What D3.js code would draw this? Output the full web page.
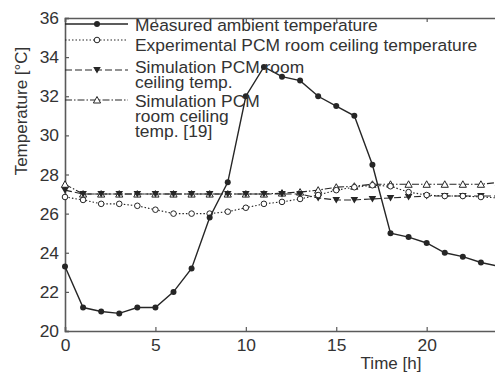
<!DOCTYPE html>
<html>
<head>
<meta charset="utf-8">
<script src="https://cdn.jsdelivr.net/npm/d3@7"></script>
<style>
  body { margin: 0; background: #fff; }
  svg { display: block; font-family: "Liberation Sans", Arial, Helvetica, sans-serif; }
</style>
</head>
<body>
<div id="chart"></div>
<script>
// hours of the day
const hours = [0, 1, 2, 3, 4, 5, 6, 7, 8, 9, 10, 11, 12, 13, 14, 15, 16, 17, 18, 19, 20, 21, 22, 23, 24];

// temperatures in degC
const measured = [23.3, 21.2, 21.0, 20.9, 21.2, 21.2, 22.0, 23.2, 25.8, 27.6, 32.0, 33.5, 33.0,
  32.8, 32.0, 31.5, 31.0, 28.5, 25.0, 24.8, 24.5, 24.0, 23.8, 23.5, 23.3];
const experimental = [26.85, 26.7, 26.5, 26.5, 26.4, 26.2, 26.0, 26.0, 26.0, 26.1, 26.3, 26.5, 26.6,
  26.75, 26.95, 27.2, 27.35, 27.45, 27.4, 27.1, 26.95, 26.9, 26.9, 26.85, 26.8];
const simulation = [27.2, 27.0, 27.0, 27.0, 27.0, 27.0, 27.0, 27.0, 27.0, 27.0, 27.0, 27.0, 27.0,
  27.0, 26.8, 26.7, 26.7, 26.75, 26.8, 26.85, 26.9, 26.9, 26.9, 26.9, 26.9];
const simulationRef = [27.5, 27.0, 27.0, 27.0, 27.0, 27.0, 27.0, 27.0, 27.0, 27.0, 27.0, 27.0, 27.05,
  27.1, 27.2, 27.35, 27.4, 27.5, 27.5, 27.5, 27.5, 27.5, 27.5, 27.5, 27.6];

const xTicks = [0, 5, 10, 15, 20];
const yTicks = [20, 22, 24, 26, 28, 30, 32, 34, 36];

const series = [
  { values: measured, dash: null, marker: "dot", lines: ["Measured ambient temperature"] },
  { values: experimental, dash: "1.5,2", marker: "circle", lines: ["Experimental PCM room ceiling temperature"] },
  { values: simulation, dash: "7,3", marker: "down", lines: ["Simulation PCM room", "ceiling temp."] },
  { values: simulationRef, dash: "7,2,1.5,2", marker: "up", lines: ["Simulation PCM", "room ceiling", "temp. [19]"] }
];

const width = 495, height = 374;
const margin = { top: 18, left: 65, bottom: 331 };
const ink = "#262626";
const axisColor = "#5a5a5a";
const fontSize = "17.4px";

const svg = d3.select("#chart").append("svg")
  .attr("width", width)
  .attr("height", height);

const x = d3.scaleLinear().domain([0, 24]).range([margin.left, 499]);
const y = d3.scaleLinear().domain([20, 36]).range([margin.bottom, margin.top]);

// axes with inward ticks
const gx = svg.append("g")
  .attr("transform", `translate(0,${margin.bottom})`)
  .call(d3.axisBottom(x).tickValues(xTicks).tickSize(-4).tickPadding(8));
const gy = svg.append("g")
  .attr("transform", `translate(${margin.left},0)`)
  .call(d3.axisLeft(y).tickValues(yTicks).tickSize(-4).tickPadding(6));
const gt = svg.append("g")
  .attr("transform", `translate(0,${margin.top})`)
  .call(d3.axisTop(x).tickValues(xTicks).tickSize(-4).tickFormat(""));

[gx, gy, gt].forEach(g => {
  g.select(".domain").attr("stroke", axisColor).attr("stroke-width", 1.6);
  g.selectAll(".tick line").attr("stroke", axisColor).attr("stroke-width", 1.2);
  g.selectAll(".tick text")
    .attr("fill", "#333")
    .style("font-size", fontSize)
    .style("font-family", "'Liberation Sans', Arial, sans-serif");
});

// axis titles
svg.append("text")
  .attr("transform", "translate(27,111) rotate(-90)")
  .attr("text-anchor", "middle")
  .attr("fill", "#333")
  .style("font-size", "17px")
  .text("Temperature [°C]");
svg.append("text")
  .attr("x", 391)
  .attr("y", 369)
  .attr("text-anchor", "middle")
  .attr("fill", "#333")
  .style("font-size", "17px")
  .text("Time [h]");

function drawMarker(g, type, cx, cy) {
  if (type === "dot") {
    g.append("circle").attr("cx", cx).attr("cy", cy).attr("r", 3)
      .attr("fill", ink);
  } else if (type === "circle") {
    g.append("circle").attr("cx", cx).attr("cy", cy).attr("r", 2.8)
      .attr("fill", "#fff").attr("stroke", ink).attr("stroke-width", 1);
  } else if (type === "down") {
    g.append("path")
      .attr("d", `M${cx - 3.8},${cy - 3}L${cx + 3.8},${cy - 3}L${cx},${cy + 3.5}Z`)
      .attr("fill", ink);
  } else {
    g.append("path")
      .attr("d", `M${cx - 3.6},${cy + 3}L${cx + 3.6},${cy + 3}L${cx},${cy - 3.5}Z`)
      .attr("fill", "#fff").attr("stroke", ink).attr("stroke-width", 1);
  }
}

const line = d3.line()
  .x((d, i) => x(hours[i]))
  .y(d => y(d));

// draw later series first so the measured curve sits on top
series.slice().reverse().forEach(s => {
  const g = svg.append("g");
  g.append("path")
    .attr("d", line(s.values))
    .attr("fill", "none")
    .attr("stroke", ink)
    .attr("stroke-width", s.dash ? 1.1 : 1.4)
    .attr("stroke-dasharray", s.dash);
  s.values.forEach((v, i) => drawMarker(g, s.marker, x(hours[i]), y(v)));
});

// legend
const legendRows = [
  { lineY: 24, baselines: [31] },
  { lineY: 40, baselines: [51] },
  { lineY: 70, baselines: [73, 88] },
  { lineY: 100, baselines: [107, 122, 137] }
];
const legend = svg.append("g");
series.forEach((s, k) => {
  const r = legendRows[k];
  legend.append("line")
    .attr("x1", margin.left).attr("x2", 128)
    .attr("y1", r.lineY).attr("y2", r.lineY)
    .attr("stroke", ink)
    .attr("stroke-width", s.dash ? 1.1 : 1.4)
    .attr("stroke-dasharray", s.dash);
  drawMarker(legend, s.marker, 97, r.lineY);
  s.lines.forEach((t, j) => {
    legend.append("text")
      .attr("x", 135)
      .attr("y", r.baselines[j])
      .attr("fill", "#333")
      .style("font-size", fontSize)
      .text(t);
  });
});
</script>
</body>
</html>
